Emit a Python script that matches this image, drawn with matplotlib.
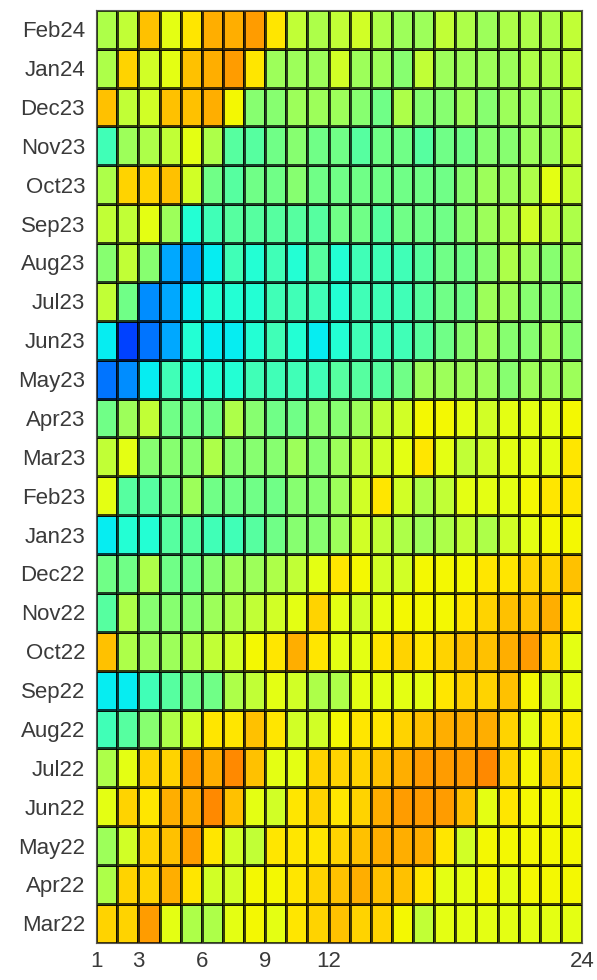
import numpy as np
import matplotlib
matplotlib.use("Agg")
import matplotlib.pyplot as plt
from matplotlib.colors import ListedColormap

plt.rcParams['font.family'] = ['Liberation Sans', 'DejaVu Sans']

# months, top row first (as shown in the chart)
months = ["Feb24", "Jan24", "Dec23", "Nov23", "Oct23", "Sep23", "Aug23", "Jul23",
          "Jun23", "May23", "Apr23", "Mar23", "Feb23", "Jan23", "Dec22", "Nov22",
          "Oct22", "Sep22", "Aug22", "Jul22", "Jun22", "May22", "Apr22", "Mar22"]

# horizon ticks (column edges 1..24)
horizon_ticks = [1, 3, 6, 9, 12, 24]

# cell values, one list per month, 23 columns each
values = [
    [6.5, 7, 10, 8, 9, 10.5, 10.5, 11, 9, 7, 6.5, 7, 7.5, 6.5, 6, 6, 7, 6.5, 6, 6.5, 6.5, 6.5, 7],
    [6.5, 9.5, 7.5, 8, 10, 10.5, 11, 9, 6, 6, 6, 7.5, 6, 6, 5.5, 7, 6, 6, 6, 6, 6.5, 6.5, 7],
    [10, 7, 7.5, 10, 10, 10.5, 8.5, 5.5, 5.5, 6, 6, 6, 5.5, 5, 6.5, 5.5, 5.5, 6, 5.5, 6, 6, 6, 7],
    [4, 6, 6.5, 7, 8, 6.5, 4.5, 4.5, 5, 5.5, 5, 5, 4.5, 5, 5, 4.5, 5, 5, 5.5, 5.5, 6, 6, 7],
    [6.5, 9.5, 9.5, 10, 7.5, 5, 4.5, 5, 5, 5.5, 5, 5, 5, 5, 5, 5, 5, 5.5, 6, 6, 6.5, 8, 7],
    [7, 7, 8, 6, 3.5, 4, 4.5, 4.5, 4.5, 4.5, 4.5, 5, 5, 4.5, 5, 5, 5, 5.5, 6, 6.5, 7.5, 7, 6.5],
    [5.5, 7, 5.5, 2, 2, 3, 4, 3.5, 4, 3.5, 4.5, 3.5, 4, 4, 4, 4.5, 5, 5, 5.5, 6.5, 6, 5.5, 6],
    [7, 5, 1.5, 2, 3, 3.5, 3.5, 3.5, 4, 4, 4, 3.5, 4, 4, 4, 4.5, 5, 5, 6, 6, 5.5, 5.5, 5.5],
    [3, 0, 1, 2, 3.5, 3, 3, 3.5, 4, 3.5, 3, 3.5, 4, 4, 4, 4.5, 5, 5.5, 6, 5.5, 5.5, 6, 5.5],
    [1, 1.5, 3, 4, 3.5, 3.5, 3.5, 4, 4, 4, 4, 4.5, 4.5, 4.5, 5, 6, 6, 6, 6, 5.5, 6, 6, 6],
    [5, 6, 7, 5, 5, 5, 6.5, 5.5, 5, 5, 5.5, 5.5, 6, 7, 7.5, 8.5, 8.5, 8, 7.5, 8, 8, 8, 8.5],
    [7, 8, 5.5, 5.5, 5.5, 6.5, 5.5, 5.5, 5.5, 6, 5.5, 6, 7, 7.5, 8, 9, 8, 7, 7.5, 8, 8, 8, 9],
    [8, 4.5, 4.5, 5, 6, 5, 5, 5, 5, 5.5, 5.5, 6, 7.5, 9, 7.5, 6.5, 7, 8, 8, 8, 8.5, 9, 9],
    [3, 3.5, 3.5, 4.5, 4.5, 4, 4, 4.5, 5, 5.5, 5.5, 6, 7.5, 7, 6.5, 6, 6.5, 7, 6.5, 7.5, 8, 8.5, 8.5],
    [5, 5, 6.5, 5, 5, 5.5, 6, 6, 6.5, 7, 8, 9, 8.5, 7.5, 7.5, 8.5, 8.5, 8.5, 9, 9, 9.5, 9.5, 10],
    [4.5, 6.5, 5.5, 5.5, 5.5, 6, 6.5, 7, 7.5, 8, 9.5, 8, 7.5, 8, 8.5, 8.5, 8.5, 9, 9.5, 10, 10, 10.5, 9],
    [10, 6.5, 6, 6, 6.5, 7, 7.5, 8.5, 9, 10.5, 9, 8, 8, 9, 9.5, 9, 9.5, 10, 10, 10.5, 11, 9.5, 8],
    [3, 3, 4, 4.5, 5, 5, 6.5, 7, 8, 7.5, 6.5, 6.5, 8, 8, 8, 8, 9, 9.5, 9.5, 10, 8.5, 7.5, 8],
    [4, 4.5, 5.5, 6.5, 7.5, 9, 9, 10, 9, 7.5, 7.5, 8.5, 9, 9, 9.5, 10, 10.5, 10.5, 10.5, 9.5, 8, 9, 9],
    [6.5, 8, 9.5, 9.5, 11, 10.5, 11.5, 10, 8, 8, 9.5, 9.5, 9.5, 10, 10.5, 11, 11, 11, 11.5, 9.5, 8.5, 9.5, 9],
    [8, 9.5, 9, 10.5, 10.5, 11.5, 10, 8, 7.5, 9, 9.5, 9, 9.5, 10.5, 11, 11, 11, 10, 8, 9, 8.5, 8.5, 8.5],
    [6, 7.5, 9.5, 10, 11, 9, 7.5, 7, 9, 9, 9, 9.5, 10, 10.5, 10.5, 10.5, 9, 7.5, 8.5, 8.5, 8.5, 8.5, 8.5],
    [6.5, 9.5, 9.5, 10.5, 9, 7.5, 7.5, 8.5, 8.5, 9, 9.5, 10, 10.5, 10, 10, 9, 8, 8, 8.5, 8, 8.5, 8.5, 8.5],
    [9.5, 9.5, 11, 8, 6.5, 6.5, 8, 8.5, 8, 9, 9.5, 10, 9.5, 9.5, 8.5, 7, 8, 8, 8, 8, 8, 8, 8],
]

grid = np.array(values)[::-1]   # bottom row = Mar22
labels = months[::-1]
n_rows, n_cols = grid.shape

# part of jet actually used by the chart (no deep blue, no red)
lev = [0, 1, 2, 3, 4, 5, 6, 7, 8, 9, 10, 11, 11.5]
pos = [0.19, 0.24, 0.29, 0.36, 0.425, 0.485, 0.54, 0.585, 0.625, 0.665, 0.705, 0.745, 0.765]
jet = plt.get_cmap("jet")
cmap = ListedColormap(jet(np.interp(np.linspace(0, 11.5, 256), lev, pos)))

fig = plt.figure(figsize=(5.97, 9.80), dpi=100)
ax = fig.add_axes([0.161, 0.038, 0.814, 0.952])

x_edges = np.arange(1, n_cols + 2)
y_edges = np.arange(n_rows + 1) + 0.5
ax.pcolormesh(x_edges, y_edges, grid, cmap=cmap, vmin=0, vmax=11.5,
              edgecolors=(0, 0, 0, 0.75), linewidth=0.8)

ax.set_xlim(1, n_cols + 1)
ax.set_ylim(0.5, n_rows + 0.5)
ax.set_xticks(horizon_ticks)
ax.set_yticks(np.arange(1, n_rows + 1))
ax.set_yticklabels(labels)
ax.tick_params(length=0, labelsize=16, colors="#3a3a3a", pad=8)
ax.tick_params(axis="x", pad=6)
for s in ax.spines.values():
    s.set_color("#555555")
    s.set_linewidth(0.8)

fig.savefig("out.png", dpi=100)
